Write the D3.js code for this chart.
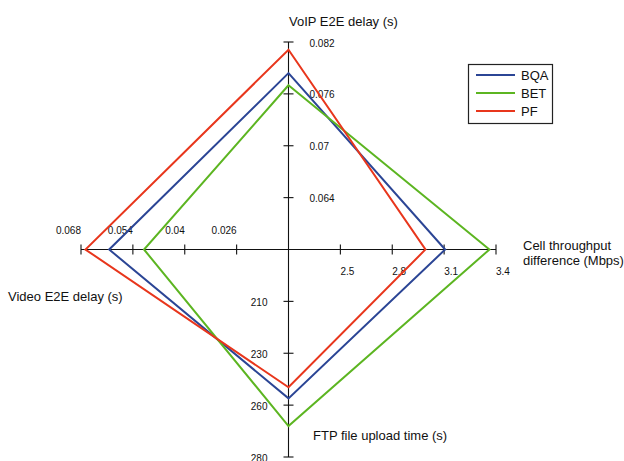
<!DOCTYPE html>
<html>
<head>
<meta charset="utf-8">
<script src="https://cdn.jsdelivr.net/npm/d3@7/dist/d3.min.js"></script>
<style>
  html, body { margin: 0; padding: 0; background: #fff; }
  svg { display: block; font-family: "Liberation Sans", Arial, Helvetica, sans-serif; }
</style>
</head>
<body>
<svg id="chart" width="624" height="461"></svg>
<script>
// Radar axes: name, domain and ticks for each spoke
const axisNames = ["VoIP E2E delay (s)", "Cell throughput|difference (Mbps)", "FTP file upload time (s)", "Video E2E delay (s)"];
const axisDomains = [[0.058, 0.082], [2.2, 3.4], [188, 280], [0.012, 0.068]];
const axisTicks = [
  [0.064, 0.070, 0.076, 0.082],
  [2.5, 2.8, 3.1, 3.4],
  [211, 234, 257, 280],
  [0.026, 0.040, 0.054, 0.068]
];
const axisTickLabels = [
  ["0.064", "0.07", "0.076", "0.082"],
  ["2.5", "2.8", "3.1", "3.4"],
  ["210", "230", "260", "280"],
  ["0.026", "0.04", "0.054", "0.068"]
];

// Series values, one per spoke (VoIP, Cell throughput, FTP, Video)
const seriesNames = ["BQA", "BET", "PF"];
const bqaValues = [0.0784, 3.106, 254.0, 0.0604];
const betValues = [0.0770, 3.362, 266.3, 0.0510];
const pfValues  = [0.0811, 2.992, 249.1, 0.0668];
const seriesColors = ["#2b4595", "#5cb521", "#e8361c"];

const series = [bqaValues, betValues, pfValues];

const svg = d3.select("#chart");
const cx = 288.5, cy = 249.5, R = 207.5;

// spoke directions: up, right, down, left
const dirs = [[0, -1], [1, 0], [0, 1], [-1, 0]];
const scales = axisDomains.map(d => d3.scaleLinear().domain(d).range([0, R]));

function pt(i, v) {
  const r = scales[i](v);
  return [cx + dirs[i][0] * r, cy + dirs[i][1] * r];
}

// axis lines
const gAxes = svg.append("g");
gAxes.append("line").attr("x1", cx).attr("x2", cx).attr("y1", cy - R).attr("y2", cy + R)
  .attr("stroke", "#111").attr("stroke-width", 1.1);
gAxes.append("line").attr("x1", cx - R).attr("x2", cx + R).attr("y1", cy).attr("y2", cy)
  .attr("stroke", "#111").attr("stroke-width", 1.1);

// ticks and tick labels
axisTicks.forEach((ticks, i) => {
  const [dx, dy] = dirs[i];
  ticks.forEach((t, k) => {
    const [x, y] = pt(i, t);
    gAxes.append("line")
      .attr("x1", x - dy * 5).attr("x2", x + dy * 5)
      .attr("y1", y - dx * 5).attr("y2", y + dx * 5)
      .attr("stroke", "#111").attr("stroke-width", 1.1);
    const lab = gAxes.append("text")
      .attr("font-size", 10).attr("fill", "#111")
      .attr("dominant-baseline", "central")
      .text(axisTickLabels[i][k]);
    if (i === 0) lab.attr("x", x + 21).attr("y", y + 1).attr("text-anchor", "start");
    if (i === 1) lab.attr("x", x).attr("y", y + 22).attr("text-anchor", "start");
    if (i === 2) lab.attr("x", x - 21).attr("y", y + 1).attr("text-anchor", "end");
    if (i === 3) lab.attr("x", x).attr("y", y - 19).attr("text-anchor", "end");
  });
});

// axis titles
const titlePos = [[289, 26], [523, 250], [313, 440], [8, 301]];
axisNames.forEach((name, i) => {
  const t = svg.append("text")
    .attr("x", titlePos[i][0]).attr("y", titlePos[i][1])
    .attr("font-size", 13).attr("fill", "#111");
  name.split("|").forEach((line, j) => {
    t.append("tspan").attr("x", titlePos[i][0]).attr("dy", j === 0 ? 0 : 14.5).text(line);
  });
});

// series polygons
const line = d3.line().curve(d3.curveLinearClosed);
series.forEach((vals, s) => {
  svg.append("path")
    .attr("d", line(vals.map((v, i) => pt(i, v))))
    .attr("fill", "none")
    .attr("stroke", seriesColors[s])
    .attr("stroke-width", 2)
    .attr("stroke-linejoin", "miter");
});

// legend
const lg = svg.append("g");
lg.append("rect").attr("x", 468.5).attr("y", 64.5).attr("width", 84).attr("height", 59)
  .attr("fill", "#fff").attr("stroke", "#222").attr("stroke-width", 1.2);
seriesNames.forEach((n, s) => {
  const y = 75 + s * 18;
  lg.append("line").attr("x1", 476).attr("x2", 515).attr("y1", y).attr("y2", y)
    .attr("stroke", seriesColors[s]).attr("stroke-width", 2);
  lg.append("text").attr("x", 521).attr("y", y + 5)
    .attr("font-size", 13).attr("fill", "#111").text(n);
});
</script>
</body>
</html>
